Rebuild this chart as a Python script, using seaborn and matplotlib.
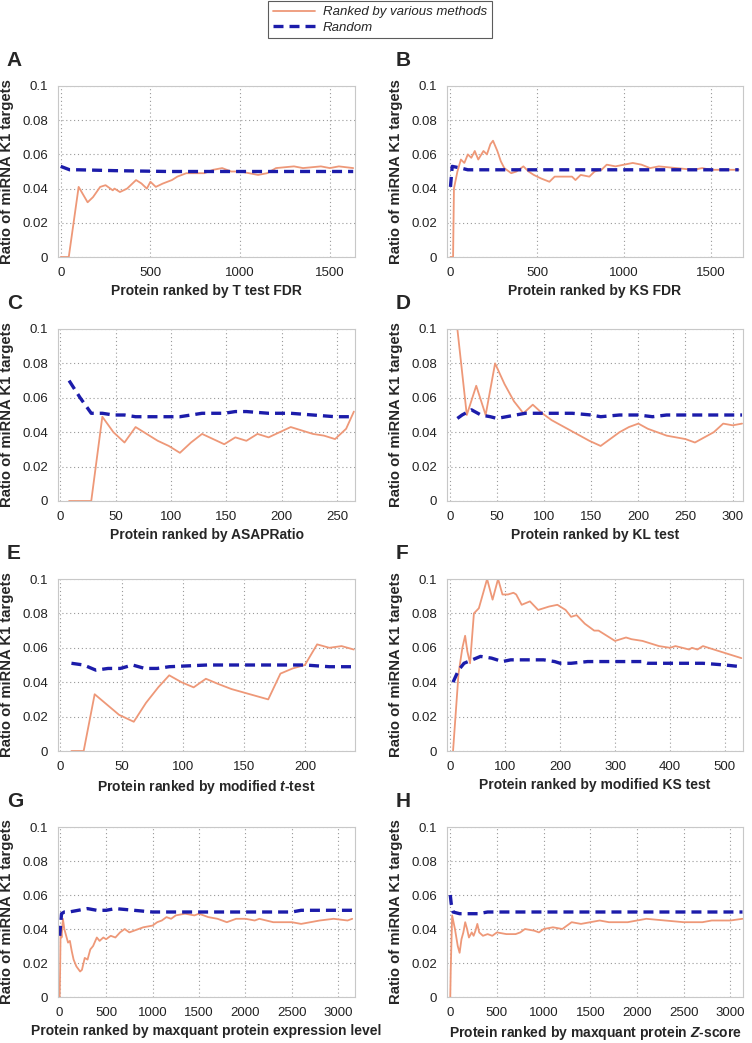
import numpy as np
import pandas as pd
import matplotlib
matplotlib.use("Agg")
import matplotlib.pyplot as plt
import seaborn as sns
from matplotlib.lines import Line2D

# ---------------- data ----------------
a_rank_x = [0, 45, 100, 150, 180, 220, 250, 290, 300, 330, 370, 400, 420, 450, 480, 500, 530, 570, 620, 650, 700, 800, 850, 900, 950, 1000, 1050, 1100, 1150, 1200, 1300, 1350, 1450, 1500, 1550, 1630]
a_rank_y = [0, 0, 0.041, 0.032, 0.035, 0.041, 0.042, 0.039, 0.040, 0.038, 0.040, 0.043, 0.045, 0.043, 0.040, 0.044, 0.041, 0.043, 0.045, 0.047, 0.049, 0.049, 0.051, 0.052, 0.050, 0.050, 0.049, 0.048, 0.049, 0.052, 0.053, 0.052, 0.053, 0.052, 0.053, 0.052]
a_rand_x = [0, 50, 100, 300, 600, 1000, 1630]
a_rand_y = [0.053, 0.051, 0.051, 0.0505, 0.050, 0.050, 0.050]

b_rank_x = [0, 15, 20, 40, 60, 80, 100, 120, 140, 160, 190, 210, 230, 245, 270, 290, 310, 350, 380, 420, 450, 480, 520, 570, 600, 700, 720, 750, 800, 830, 870, 900, 950, 1000, 1050, 1100, 1150, 1200, 1300, 1400, 1450, 1500, 1660]
b_rank_y = [0, 0, 0.040, 0.050, 0.057, 0.055, 0.060, 0.058, 0.062, 0.057, 0.062, 0.060, 0.066, 0.068, 0.062, 0.056, 0.052, 0.049, 0.050, 0.053, 0.050, 0.048, 0.046, 0.044, 0.047, 0.047, 0.045, 0.048, 0.047, 0.050, 0.051, 0.054, 0.053, 0.054, 0.055, 0.054, 0.052, 0.053, 0.052, 0.051, 0.052, 0.051, 0.051]
b_rand_x = [0, 10, 60, 100, 400, 1000, 1660]
b_rand_y = [0.041, 0.053, 0.052, 0.051, 0.051, 0.051, 0.051]

c_rank_x = [8, 18, 28, 38, 48, 58, 68, 78, 88, 98, 108, 118, 128, 138, 148, 158, 168, 178, 188, 198, 208, 218, 228, 238, 248, 258, 265]
c_rank_y = [0, 0, 0, 0.049, 0.040, 0.034, 0.043, 0.039, 0.035, 0.032, 0.028, 0.034, 0.039, 0.036, 0.033, 0.037, 0.035, 0.039, 0.037, 0.040, 0.043, 0.041, 0.039, 0.038, 0.036, 0.042, 0.052]
c_rand_x = [8, 18, 28, 38, 48, 58, 68, 88, 108, 128, 148, 158, 168, 188, 208, 228, 248, 265]
c_rand_y = [0.070, 0.060, 0.051, 0.051, 0.050, 0.050, 0.049, 0.049, 0.049, 0.051, 0.051, 0.052, 0.052, 0.051, 0.051, 0.050, 0.049, 0.049]

d_rank_x = [8, 18, 28, 38, 48, 58, 68, 78, 88, 98, 108, 118, 128, 138, 148, 160, 170, 180, 190, 200, 210, 220, 230, 240, 250, 260, 270, 280, 290, 300, 310]
d_rank_y = [0.100, 0.050, 0.067, 0.050, 0.080, 0.068, 0.058, 0.051, 0.056, 0.051, 0.047, 0.044, 0.041, 0.038, 0.035, 0.032, 0.036, 0.040, 0.043, 0.045, 0.042, 0.040, 0.038, 0.037, 0.036, 0.034, 0.037, 0.040, 0.045, 0.044, 0.045]
d_rand_x = [8, 13, 23, 33, 43, 50, 60, 80, 100, 130, 150, 160, 180, 200, 215, 230, 310]
d_rand_y = [0.048, 0.050, 0.053, 0.050, 0.049, 0.048, 0.049, 0.051, 0.051, 0.051, 0.050, 0.049, 0.050, 0.050, 0.049, 0.050, 0.050]

e_rank_x = [9, 19, 28, 38, 48, 60, 70, 80, 89, 99, 109, 119, 129, 140, 150, 160, 170, 180, 190, 200, 210, 220, 230, 240]
e_rank_y = [0, 0, 0.033, 0.027, 0.021, 0.017, 0.028, 0.037, 0.044, 0.040, 0.037, 0.042, 0.039, 0.036, 0.034, 0.032, 0.030, 0.045, 0.048, 0.050, 0.062, 0.060, 0.061, 0.059]
e_rand_x = [9, 19, 29, 39, 49, 59, 69, 79, 89, 120, 200, 220, 240]
e_rand_y = [0.051, 0.050, 0.047, 0.048, 0.048, 0.050, 0.048, 0.048, 0.049, 0.050, 0.050, 0.049, 0.049]

f_rank_x = [5, 15, 22, 27, 31, 36, 43, 52, 60, 67, 77, 87, 95, 105, 115, 120, 130, 145, 160, 180, 195, 210, 220, 230, 245, 262, 270, 285, 300, 320, 330, 350, 360, 380, 400, 410, 435, 440, 450, 460, 490, 530]
f_rank_y = [0, 0.045, 0.060, 0.067, 0.058, 0.051, 0.080, 0.083, 0.092, 0.100, 0.088, 0.100, 0.091, 0.091, 0.092, 0.091, 0.085, 0.087, 0.082, 0.084, 0.085, 0.082, 0.078, 0.079, 0.074, 0.070, 0.070, 0.067, 0.064, 0.066, 0.065, 0.064, 0.063, 0.061, 0.060, 0.061, 0.059, 0.060, 0.059, 0.061, 0.058, 0.054]
f_rand_x = [5, 15, 25, 40, 55, 75, 95, 110, 150, 170, 190, 200, 220, 250, 300, 350, 360, 400, 460, 500, 530]
f_rand_y = [0.040, 0.047, 0.051, 0.053, 0.055, 0.054, 0.052, 0.053, 0.053, 0.053, 0.052, 0.051, 0.051, 0.052, 0.052, 0.052, 0.051, 0.051, 0.051, 0.050, 0.049]

g_rank_x = [0, 5, 10, 20, 35, 50, 90, 110, 130, 150, 180, 220, 240, 270, 300, 330, 360, 400, 430, 470, 500, 550, 600, 650, 700, 750, 800, 850, 900, 1000, 1050, 1100, 1150, 1200, 1250, 1350, 1450, 1500, 1600, 1700, 1800, 1900, 2000, 2100, 2150, 2300, 2500, 2600, 2700, 2800, 2950, 3100, 3150]
g_rank_y = [0, 0.016, 0.040, 0.035, 0.046, 0.040, 0.032, 0.033, 0.027, 0.022, 0.018, 0.015, 0.016, 0.023, 0.022, 0.028, 0.030, 0.035, 0.033, 0.035, 0.034, 0.036, 0.035, 0.038, 0.040, 0.038, 0.039, 0.040, 0.041, 0.042, 0.044, 0.045, 0.047, 0.046, 0.048, 0.049, 0.048, 0.049, 0.047, 0.046, 0.044, 0.046, 0.046, 0.045, 0.046, 0.044, 0.044, 0.043, 0.044, 0.045, 0.046, 0.045, 0.046]
g_rand_x = [0, 20, 50, 100, 200, 300, 400, 500, 600, 800, 1000, 1500, 2000, 2500, 2600, 3150]
g_rand_y = [0.036, 0.049, 0.050, 0.050, 0.051, 0.052, 0.051, 0.051, 0.052, 0.051, 0.050, 0.050, 0.050, 0.050, 0.051, 0.051]

h_rank_x = [0, 5, 20, 50, 80, 100, 120, 140, 160, 180, 200, 230, 250, 270, 290, 310, 350, 400, 450, 500, 600, 700, 750, 800, 900, 950, 1000, 1100, 1200, 1250, 1300, 1400, 1500, 1600, 1700, 1900, 2000, 2100, 2300, 2500, 2700, 2800, 3000, 3130]
h_rank_y = [0, 0.016, 0.048, 0.040, 0.030, 0.026, 0.034, 0.038, 0.044, 0.040, 0.035, 0.038, 0.036, 0.039, 0.043, 0.038, 0.036, 0.037, 0.036, 0.038, 0.037, 0.037, 0.038, 0.040, 0.039, 0.038, 0.040, 0.041, 0.040, 0.042, 0.044, 0.043, 0.044, 0.045, 0.044, 0.044, 0.045, 0.046, 0.045, 0.044, 0.044, 0.045, 0.045, 0.046]
h_rand_x = [0, 10, 30, 100, 300, 400, 1000, 2000, 3130]
h_rand_y = [0.060, 0.055, 0.050, 0.049, 0.049, 0.050, 0.050, 0.050, 0.050]

panels = [
    ("A", a_rank_x, a_rank_y, a_rand_x, a_rand_y, (-15, 1640), [0, 500, 1000, 1500], "Protein ranked by T test FDR"),
    ("B", b_rank_x, b_rank_y, b_rand_x, b_rand_y, (-20, 1685), [0, 500, 1000, 1500], "Protein ranked by KS FDR"),
    ("C", c_rank_x, c_rank_y, c_rand_x, c_rand_y, (-2, 266), [0, 50, 100, 150, 200, 250], "Protein ranked by ASAPRatio"),
    ("D", d_rank_x, d_rank_y, d_rand_x, d_rand_y, (-3, 311), [0, 50, 100, 150, 200, 250, 300], "Protein ranked by KL test"),
    ("E", e_rank_x, e_rank_y, e_rand_x, e_rand_y, (-2, 241), [0, 50, 100, 150, 200], r"Protein ranked by modified $\bfit{t}$-test"),
    ("F", f_rank_x, f_rank_y, f_rand_x, f_rand_y, (-6, 533), [0, 100, 200, 300, 400, 500], "Protein ranked by modified KS test"),
    ("G", g_rank_x, g_rank_y, g_rand_x, g_rand_y, (-18, 3180), [0, 500, 1000, 1500, 2000, 2500, 3000], "Protein ranked by maxquant protein expression level"),
    ("H", h_rank_x, h_rank_y, h_rand_x, h_rand_y, (-35, 3135), [0, 500, 1000, 1500, 2000, 2500, 3000], r"Protein ranked by maxquant protein $\bfit{Z}$-score"),
]

yticks = [0, 0.02, 0.04, 0.06, 0.08, 0.1]
ytick_labels = ["0", "0.02", "0.04", "0.06", "0.08", "0.1"]

# ---------------- styling ----------------
sns.set_style("white")
plt.rcParams["font.family"] = ["Liberation Sans", "DejaVu Sans"]
plt.rcParams["mathtext.fontset"] = "custom"
plt.rcParams["mathtext.bfit"] = "Liberation Sans:bold:italic"
plt.rcParams["mathtext.bf"] = "Liberation Sans:bold"

RANK_C = "#EE9878"
RAND_C = "#1C1CAA"
DASH = (0, (3.0, 1.8))

W, H = 752, 1043
fig = plt.figure(figsize=(W / 100, H / 100), dpi=100)

cols = [(58, 355), (447, 743)]
rows = [(86, 257), (329, 501), (579, 751), (827, 997)]

for i, (letter, rx, ry, qx, qy, xlim, xt, xlabel) in enumerate(panels):
    r, c = divmod(i, 2)
    x0, x1 = cols[c]
    y0, y1 = rows[r]
    ax = fig.add_axes([x0 / W, 1 - y1 / H, (x1 - x0) / W, (y1 - y0) / H])
    df_rank = pd.DataFrame({"x": rx, "y": ry})
    df_rand = pd.DataFrame({"x": qx, "y": qy})
    sns.lineplot(data=df_rank, x="x", y="y", ax=ax, color=RANK_C, lw=1.3, estimator=None, sort=False)
    sns.lineplot(data=df_rand, x="x", y="y", ax=ax, color=RAND_C, lw=2.4, estimator=None, sort=False,
                 dashes=False, linestyle=DASH)
    ax.set_xlim(*xlim)
    ax.set_ylim(0, 0.1)
    ax.set_xticks(xt)
    ax.set_xticklabels([str(v) for v in xt])
    ax.set_yticks(yticks)
    ax.set_yticklabels(ytick_labels)
    ax.tick_params(axis="x", length=0, labelsize=9.5, pad=7, colors="#222222")
    ax.tick_params(axis="y", length=0, labelsize=9.5, pad=7, colors="#222222")
    ax.grid(True, linestyle=(0, (1, 2.5)), color="#999999", lw=0.8)
    for s in ax.spines.values():
        s.set_color("#c8c8c8")
        s.set_linewidth(0.8)
    ax.set_xlabel(xlabel, fontsize=10, fontweight="bold", labelpad=4)
    ax.set_ylabel("Ratio of miRNA K1 targets", fontsize=10.7, fontweight="bold", labelpad=6)
    ax.text(-0.172, 1.15, letter, transform=ax.transAxes, fontsize=15, fontweight="bold",
            ha="left", va="center")

handles = [Line2D([0], [0], color=RANK_C, lw=1.3),
           Line2D([0], [0], color=RAND_C, lw=2.4, linestyle=DASH)]
leg = fig.legend(handles, ["Ranked by various methods", "Random"], loc="upper center",
                 bbox_to_anchor=(0.505, 1.0), frameon=True, fancybox=False, borderaxespad=0.1,
                 prop={"style": "italic", "size": 9.5}, handlelength=3.2,
                 borderpad=0.35, labelspacing=0.25, handletextpad=0.6)
leg.get_frame().set_edgecolor("#333333")
leg.get_frame().set_linewidth(0.8)

fig.savefig("out.png", dpi=100)
